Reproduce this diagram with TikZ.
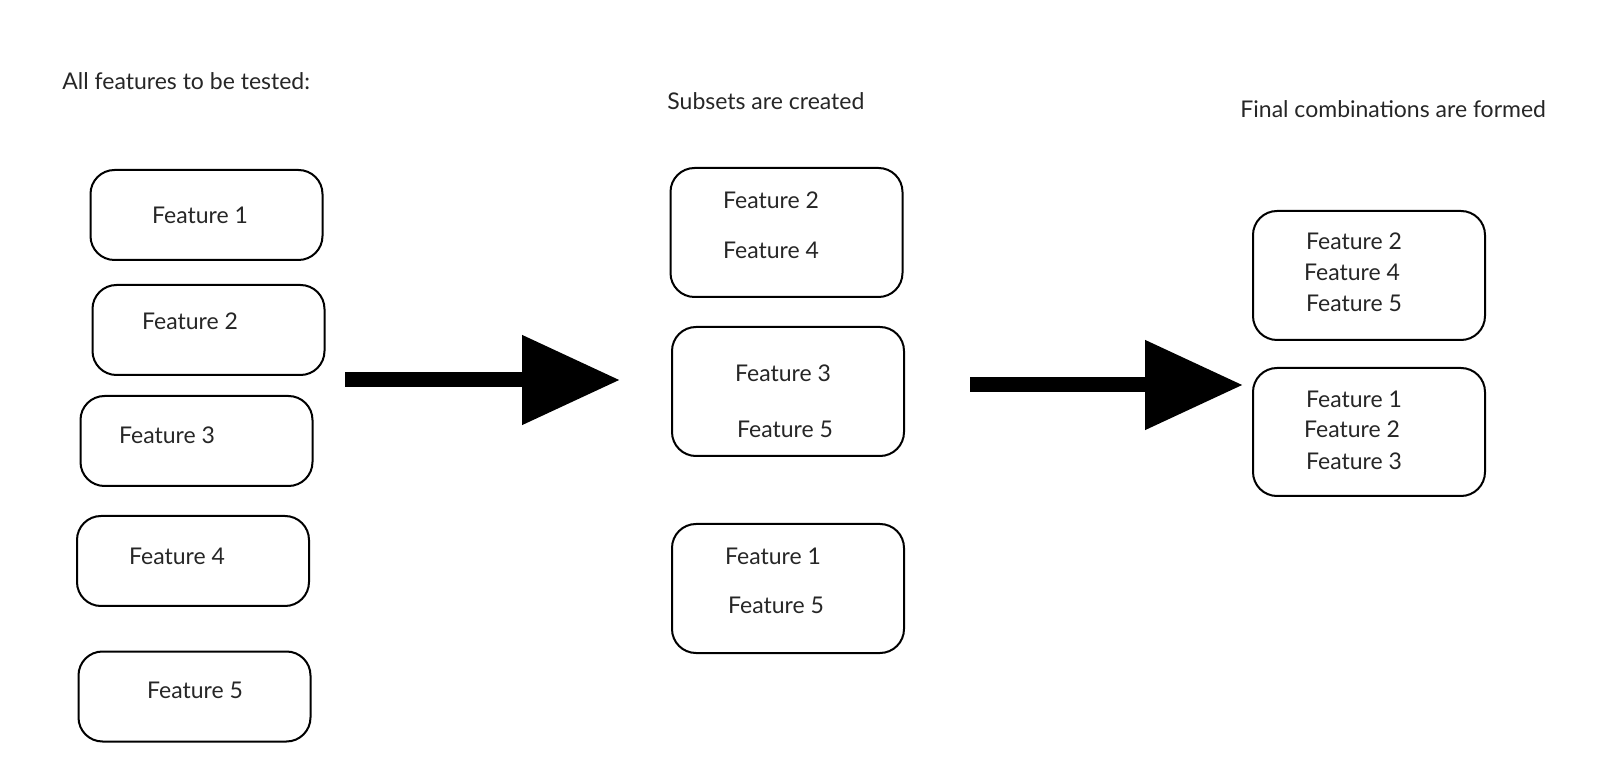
\documentclass[tikz,border=0pt]{standalone}
\usepackage{fontspec}
\setmainfont{Lato}
\usetikzlibrary{arrows.meta}
\tikzset{
  featbox/.style={draw, rounded corners=12pt, line width=1pt, minimum width=116pt, inner sep=0pt},
  feat/.style={text=black!85, font=\fontsize{11.5}{13}\selectfont, inner sep=0pt},
  title/.style={text=black!85, font=\fontsize{11.5}{13}\selectfont, inner sep=0pt, anchor=west},
  bigarrow/.style={line width=7.5pt, -{Triangle[length=49pt, width=43pt]}}
}
\begin{document}
\begin{tikzpicture}[x=0.5pt, y=-0.5pt]
\useasboundingbox (0,0) rectangle (1602,764);
% titles
\node[title] (t0) at (62,81) {All features to be tested:};
\node[title] (t1) at (667,101) {Subsets are created};
\node[title] (t2) at (1240,109) {Final combinations are formed};
% all features
\node[featbox, minimum height=45pt] (box1) at (206.5,215){};
\node[featbox, minimum height=45pt] (box2) at (208.5,330){};
\node[featbox, minimum height=45pt] (box3) at (196.5,441){};
\node[featbox, minimum height=45pt] (box4) at (193,561){};
\node[featbox, minimum height=45pt] (box5) at (194.5,696.5){};
\node[feat] (f1) at (200,215){Feature 1};
\node[feat] (f2) at (190,321){Feature 2};
\node[feat] (f3) at (167,435){Feature 3};
\node[feat] (f4) at (177,556){Feature 4};
\node[feat] (f5) at (195,690){Feature 5};
% subsets
\node[featbox, minimum height=64.5pt] (sub1) at (786.5,232.5){};
\node[featbox, minimum height=64.5pt] (sub2) at (788,391.5){};
\node[featbox, minimum height=64.5pt] (sub3) at (788,588.5){};
\node[feat] (s1a) at (771,200){Feature 2};
\node[feat] (s1b) at (771,250){Feature 4};
\node[feat] (s2a) at (783,373){Feature 3};
\node[feat] (s2b) at (785,429){Feature 5};
\node[feat] (s3a) at (773,556){Feature 1};
\node[feat] (s3b) at (776,605){Feature 5};
% combinations
\node[featbox, minimum height=64.5pt] (comb1) at (1369,275.5){};
\node[featbox, minimum height=64pt] (comb2) at (1369,432){};
\node[feat] (c1a) at (1354,241){Feature 2};
\node[feat] (c1b) at (1352,272){Feature 4};
\node[feat] (c1c) at (1354,303){Feature 5};
\node[feat] (c2a) at (1354,399){Feature 1};
\node[feat] (c2b) at (1352,429){Feature 2};
\node[feat] (c2c) at (1354,461){Feature 3};
% arrows
\coordinate (a1s) at (345,380);
\coordinate (a1e) at (620,380);
\coordinate (a2s) at (970,385);
\coordinate (a2e) at (1243,385);
\draw[bigarrow] (a1s) -- (a1e);
\draw[bigarrow] (a2s) -- (a2e);
\end{tikzpicture}
\end{document}
